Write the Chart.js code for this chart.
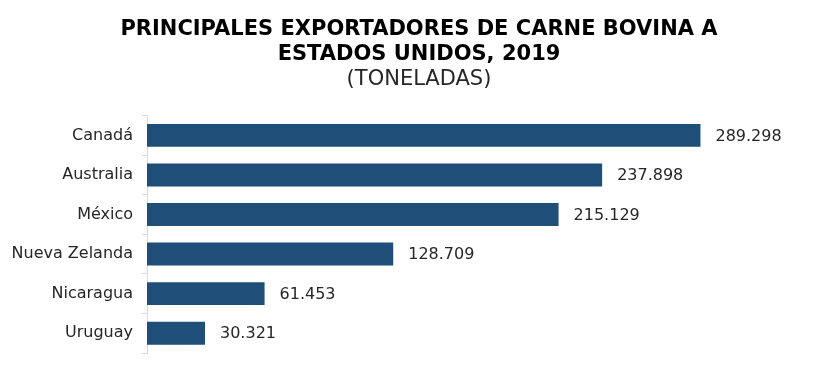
<!DOCTYPE html>
<html>
<head>
<meta charset="utf-8">
<script src="https://cdn.jsdelivr.net/npm/chart.js@4.4.1/dist/chart.umd.min.js"></script>
<style>
  html, body { margin: 0; padding: 0; background: #fff; }
  #wrap { width: 840px; height: 375px; }
</style>
</head>
<body>
<div id="wrap"><canvas id="chart" width="840" height="375"></canvas></div>
<script>
// datos: toneladas exportadas a EEUU, 2019
var paises = ['Canadá', 'Australia', 'México', 'Nueva Zelanda', 'Nicaragua', 'Uruguay'];
var toneladas = [289298, 237898, 215129, 128709, 61453, 30321];
var etiquetas = ['289.298', '237.898', '215.129', '128.709', '61.453', '30.321'];

var FONT = "'DejaVu Sans', Verdana, sans-serif";
var BAR_COLOR = '#1F4E79';

// dibuja los valores al final de cada barra
var valueLabels = {
  id: 'valueLabels',
  afterDatasetsDraw: function (chart) {
    var ctx = chart.ctx;
    var meta = chart.getDatasetMeta(0);
    ctx.save();
    ctx.font = '16px ' + FONT;
    ctx.fillStyle = '#262626';
    ctx.textAlign = 'left';
    ctx.textBaseline = 'middle';
    meta.data.forEach(function (bar, i) {
      ctx.fillText(etiquetas[i], bar.x + 15, bar.y + 1);
    });
    ctx.restore();
  }
};

var ctx = document.getElementById('chart');
var chart = new Chart(ctx, {
  type: 'bar',
  data: {
    labels: paises,
    datasets: [{
      data: toneladas,
      backgroundColor: BAR_COLOR,
      barPercentage: 0.58,
      categoryPercentage: 1.0
    }]
  },
  options: {
    indexAxis: 'y',
    responsive: false,
    animation: false,
    devicePixelRatio: 1,
    layout: { padding: { left: 8, right: 10, top: 0, bottom: 22 } },
    plugins: {
      legend: { display: false },
      tooltip: { enabled: false },
      title: {
        display: true,
        text: ['PRINCIPALES EXPORTADORES DE CARNE BOVINA A', 'ESTADOS UNIDOS, 2019'],
        color: '#000',
        font: { family: FONT, size: 21, weight: 'bold' },
        lineHeight: 1.15,
        padding: { top: 17, bottom: 0 }
      },
      subtitle: {
        display: true,
        text: '(TONELADAS)',
        color: '#262626',
        font: { family: FONT, size: 21 },
        lineHeight: 1.15,
        padding: { top: 0, bottom: 23 }
      }
    },
    scales: {
      x: {
        display: false,
        min: 0,
        max: 357000
      },
      y: {
        afterFit: function (scale) { scale.width = 139; },
        grid: {
          display: true,
          drawOnChartArea: false,
          color: '#d9d9d9',
          tickLength: 5,
          offset: true
        },
        border: { display: true, color: '#d9d9d9' },
        ticks: {
          color: '#262626',
          padding: 9,
          font: { family: FONT, size: 16 }
        }
      }
    }
  },
  plugins: [valueLabels]
});
</script>
</body>
</html>
